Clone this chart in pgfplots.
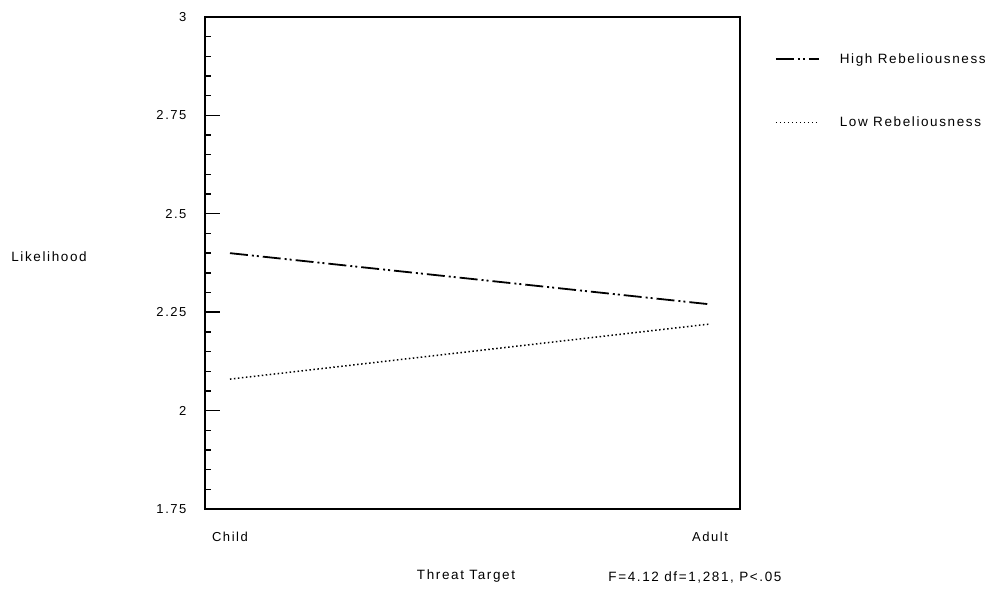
\documentclass[border=0pt]{standalone}
\usepackage{pgfplots}
\pgfplotsset{compat=1.18}
\usepackage{fontspec}
\setmainfont[LetterSpace=12]{Liberation Sans}
\begin{document}
\begin{tikzpicture}
\path (0pt,0pt) rectangle (988pt,593pt);
\begin{axis}[
  at={(205pt,84pt)}, anchor=south west,
  width=535pt, height=492pt, scale only axis,
  xmin=-0.052, xmax=1.0625,
  ymin=1.75, ymax=3,
  ytick={1.75,2,2.25,2.5,2.75,3},
  yticklabels={1.75,2,2.25,2.5,2.75,3},
  minor y tick num=4,
  xtick={0,1}, xticklabels={Child,Adult},
  x tick label style={yshift=-20pt},
  major x tick style={draw=none},
  ytick pos=left, xtick pos=bottom,
  tick align=inside,
  major tick length=15pt, minor tick length=6pt,
  y tick label style={xshift=-15pt},
  tick label style={font=\fontsize{13}{15}\selectfont},
  axis line style={line width=1.2pt},
  tick style={line width=1.4pt, black},
  legend style={at={(1.065,0.93)}, anchor=north west, draw=none, fill=none,
    font=\fontsize{13.5}{16}\selectfont, row sep=48pt, inner sep=0pt,
    /tikz/every even column/.append style={column sep=0pt}},
  legend cell align=left,
  legend image code/.code={\draw[#1] (0pt,0pt) -- (43pt,0pt);},
]
\addplot[black, line width=1.8pt, dash pattern=on 18pt off 4pt on 2pt off 3pt on 2pt off 4pt] coordinates {(0,2.40) (1,2.27)};
\addlegendentry{\hspace{18pt}High Rebeliousness}
\addplot[black, line width=1.5pt, dash pattern=on 1.5pt off 2.5pt] coordinates {(0,2.08) (1,2.22)};
\addlegendentry{\hspace{18pt}Low Rebeliousness}
\end{axis}
\node[font=\fontsize{13.5}{16}\selectfont] at (49pt,336pt) {Likelihood};
\node[font=\fontsize{13.5}{16}\selectfont] at (466pt,17pt) {Threat Target};
\node[font=\fontsize{13.5}{16}\selectfont] at (695pt,16pt) {F=4.12 df=1,281, P<.05};
\end{tikzpicture}
\end{document}
